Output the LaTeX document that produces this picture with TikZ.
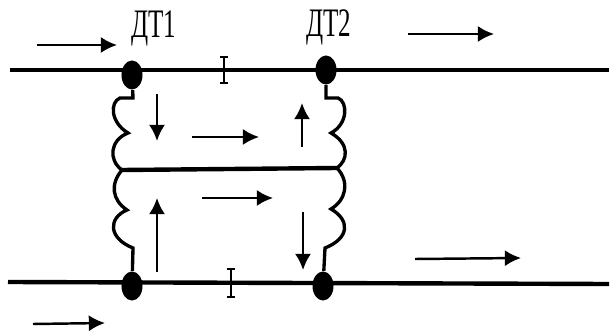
\documentclass[tikz,border=0pt]{standalone}
\usepackage{fontspec}
\setmainfont{Liberation Serif}
\usetikzlibrary{arrows.meta,shapes.geometric}
\tikzset{
	bus/.style={line width=1.25pt},
	coil/.style={line width=0.95pt},
	flow/.style={line width=0.7pt,-{Latex[length=4.6pt,width=4.6pt]}},
	tick/.style={line width=0.7pt},
	sensor/.style={ellipse,fill=black,inner sep=0pt,minimum width=0.21cm,minimum height=0.29cm},
	sensorlabel/.style={xscale=0.62,font=\fontsize{11.5}{12}\selectfont,inner sep=0pt}
}
\begin{document}
\begin{tikzpicture}[x=0.01cm,y=-0.01cm]
	\useasboundingbox (0,0) rectangle (610,334);
	% lines
	\coordinate (topL) at (10,70);
	\coordinate (topR) at (609,70);
	\coordinate (botL) at (8,282);
	\coordinate (botR) at (609,284);
	\coordinate (midL) at (122,170);
	\coordinate (midR) at (337,168);
	\node[sensor] (dtA) at (132,75) {};
	\node[sensor] (dtB) at (326,70) {};
	\node[sensor] (dtC) at (132,286) {};
	\node[sensor] (dtD) at (323,286) {};
	\draw[bus] (topL) -- (topR);
	\draw[bus] (botL) -- (botR);
	\draw[bus] (midL) -- (midR);
	% coils
	\draw[coil] (dtA) -- (133,98) -- (120,98)
		.. controls (110,102) and (110,122) .. (128,133)
		.. controls (110,140) and (108,160) .. (midL);
	\draw[coil] (dtB) -- (326,98) -- (338,98)
		.. controls (348,102) and (348,124) .. (331,133)
		.. controls (350,144) and (348,160) .. (midR);
	\draw[coil] (midL)
		.. controls (110,184) and (112,200) .. (127,210)
		.. controls (108,218) and (108,238) .. (133,248)
		-- (dtC);
	\draw[coil] (midR)
		.. controls (350,182) and (346,200) .. (331,209)
		.. controls (350,220) and (350,238) .. (325,248)
		-- (dtD);
	% ticks
	\draw[tick] (224,57) -- (224,83) (220,57) -- (228,57) (220,83) -- (228,83);
	\draw[tick] (231,269) -- (231,297) (227,269) -- (235,269) (227,297) -- (235,297);
	% arrows
	\draw[flow] (37,45) -- (117,45);
	\draw[flow] (408,34) -- (494,34);
	\draw[flow] (192,137) -- (259,137);
	\draw[flow] (202,198) -- (273,198);
	\draw[flow] (415,259) -- (521,258);
	\draw[flow] (33,324) -- (105,323);
	\draw[flow] (157,94) -- (157,141);
	\draw[flow] (302,147) -- (302,103);
	\draw[flow] (157,272) -- (157,198);
	\draw[flow] (303,212) -- (303,270);
	% labels
	\node[sensorlabel] (lblA) at (154,28) {ДТ1};
	\node[sensorlabel] (lblB) at (329,27) {ДТ2};
\end{tikzpicture}
\end{document}
